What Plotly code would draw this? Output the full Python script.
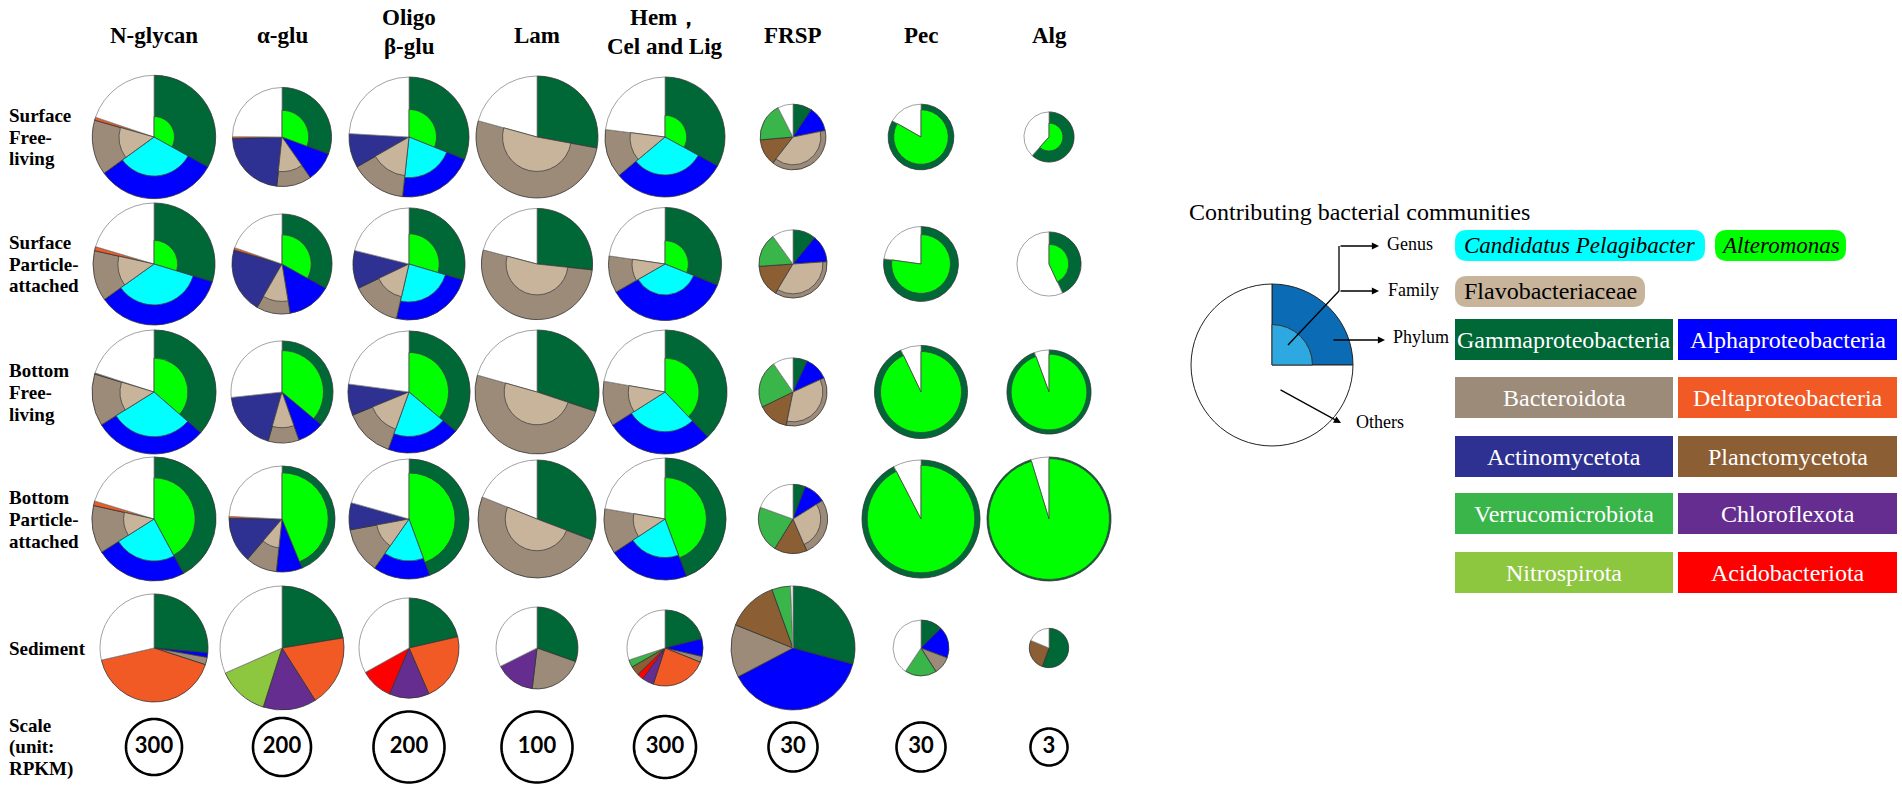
import numpy as np
import plotly.graph_objects as go

W, H = 1902, 790

# %% data ---------------------------------------------------------------
HEADERS = [["N-glycan"], ["α-glu"], ["Oligo", "β-glu"], ["Lam"],
           ["Hem，", "Cel and Lig"], ["FRSP"], ["Pec"], ["Alg"]]
ROW_LABELS = [["Surface", "Free-", "living"],
              ["Surface", "Particle-", "attached"],
              ["Bottom", "Free-", "living"],
              ["Bottom", "Particle-", "attached"],
              ["Sediment"]]

# scale circles (RPKM) per column
scale_rpkm = [300, 200, 200, 100, 300, 30, 30, 3]

# total RPKM of each pie, rows x columns
total_rpkm = [
    [1457, 583, 571, 295, 1124, 54, 54, 5.5],
    [1424, 595, 498, 245, 997, 58, 70, 9.0],
    [1471, 619, 591, 305, 1200, 58, 108, 15.5],
    [1471, 668, 571, 276, 1162, 60, 174, 33.7],
    [1116, 914, 397, 133, 451, 192, 39, 3.4],
]

PHYLA = ["Gammaproteobacteria", "Alphaproteobacteria", "Bacteroidota",
         "Actinomycetota", "Deltaproteobacteria", "Chloroflexota",
         "Nitrospirota", "Acidobacteriota", "Planctomycetota",
         "Verrucomicrobiota"]

# phylum share (%) of each pie, rows x columns; the rest is "Others"
gamma = [
    [33.1, 30.6, 31.1, 27.9, 33.0, 9.4, 83.2, 61.7],
    [29.7, 33.1, 29.6, 26.7, 31.1, 11.0, 77.2, 43.1],
    [36.4, 36.1, 36.1, 30.1, 37.9, 6.9, 92.9, 94.4],
    [42.1, 43.8, 44.4, 30.8, 44.3, 5.8, 92.4, 95.3],
    [26.4, 22.4, 21.4, 30.4, 21.1, 29.2, 12.6, 55.5],
]
alpha = [
    [31.9, 9.7, 20.6, 0, 30.9, 12.4, 0, 0],
    [35.4, 14.3, 24.0, 0, 35.6, 12.9, 0, 0],
    [29.7, 8.5, 19.4, 0, 28.1, 11.3, 0, 0],
    [23.9, 7.9, 15.3, 0, 21.4, 10.3, 0, 0],
    [1.4, 0, 0, 0, 7.5, 38.1, 18.1, 0],
]
bacteroidota = [
    [14.4, 11.4, 15.0, 51.4, 13.1, 38.7, 0, 0],
    [13.4, 10.9, 14.3, 52.4, 10.6, 34.7, 0, 0],
    [13.6, 9.8, 13.3, 49.3, 11.8, 35.0, 0, 0],
    [12.5, 9.6, 12.4, 50.3, 12.0, 27.4, 0, 0],
    [2.2, 0, 0, 21.5, 2.5, 13.8, 10.3, 0],
]
actino = [
    [0, 22.8, 9.2, 0, 0, 0, 0, 0],
    [0, 21.2, 11.0, 0, 0, 0, 0, 0],
    [0, 18.9, 8.3, 0, 0, 0, 0, 0],
    [0, 13.9, 7.3, 0, 0, 0, 0, 0],
    [0, 0, 0, 0, 0, 0, 0, 0],
]
delta = [
    [0.8, 0.6, 0, 0, 0, 0, 0, 0],
    [1.1, 0.8, 0, 0, 0, 0, 0, 0],
    [0, 0, 0, 0, 0, 0, 0, 0],
    [1.2, 0.6, 0, 0, 0, 0, 0, 0],
    [41.4, 18.6, 22.1, 0, 23.9, 0, 0, 0],
]
chloro = [[0] * 8] * 4 + [[0, 13.9, 12.9, 15.7, 5.0, 0, 0, 0]]
nitro = [[0] * 8] * 4 + [[0, 13.5, 0, 0, 0, 0, 0, 0]]
acido = [[0] * 8] * 4 + [[0, 0, 10.5, 0, 2.7, 0, 0, 0]]
plancto = [
    [0, 0, 0, 0, 0, 13.1, 0, 0],
    [0, 0, 0, 0, 0, 15.3, 0, 0],
    [0.3, 0, 0, 0, 0, 14.6, 0, 0],
    [0, 0, 0, 0, 0, 15.3, 0, 0],
    [0, 0, 0, 0, 4.0, 13.4, 0, 25.8],
]
verruco = [
    [0, 0, 0, 0, 0, 18.9, 0, 0],
    [0, 0, 0, 0, 0, 16.1, 0, 0],
    [0, 0, 0, 0, 0, 22.6, 0, 0],
    [0, 0, 0, 0, 0, 21.7, 0, 0],
    [0, 0, 0, 0, 3.2, 4.9, 18.4, 0],
]
phylum_pct = dict(zip(PHYLA, [gamma, alpha, bacteroidota, actino, delta,
                              chloro, nitro, acido, plancto, verruco]))

# genus / family share (%) inside its phylum
alteromonas = [
    [11, 29, 21, 0, 13, 0, 69, 31],
    [15, 34, 29, 0, 17, 0, 62, 38],
    [30, 66, 42, 0, 30, 0, 76, 81],
    [44, 76, 59, 0, 46, 0, 83, 95],
    [0, 0, 0, 0, 0, 0, 0, 0],
]
pelagibacter = [
    [40, 0, 46, 0, 40, 0, 0, 0],
    [45, 0, 46, 0, 30, 0, 0, 0],
    [52, 0, 53, 0, 41, 0, 0, 0],
    [46, 0, 49, 0, 40, 0, 0, 0],
    [0, 0, 0, 0, 0, 0, 0, 0],
]
flavo = [
    [32, 49, 42, 32, 34, 72, 0, 0],
    [35, 56, 36, 31, 34, 77, 0, 0],
    [30, 49, 42, 28, 35, 77, 0, 0],
    [24, 30, 30, 29, 27, 64, 0, 0],
    [0, 0, 0, 0, 0, 0, 0, 0],
]
inner_layers = [("Alteromonas", "Gammaproteobacteria", alteromonas),
                ("Candidatus Pelagibacter", "Alphaproteobacteria", pelagibacter),
                ("Flavobacteriaceae", "Bacteroidota", flavo)]

# legend example pie: phylum quarter with an inner genus part
legend_pie_pct = [25, 75]
legend_inner_share = 25

COLORS = {
    "Gammaproteobacteria": "#006837",
    "Alphaproteobacteria": "#0000FF",
    "Bacteroidota": "#9C8B78",
    "Actinomycetota": "#2E3192",
    "Deltaproteobacteria": "#F15A24",
    "Chloroflexota": "#662D91",
    "Nitrospirota": "#8DC63F",
    "Acidobacteriota": "#FF0000",
    "Planctomycetota": "#8B5E34",
    "Verrucomicrobiota": "#39B54A",
    "Others": "#FFFFFF",
    "Alteromonas": "#00FF00",
    "Candidatus Pelagibacter": "#00FFFF",
    "Flavobacteriaceae": "#C8B49B",
}

# %% layout constants (pixels) -------------------------------------------
COL_X = [154, 282, 409, 537, 665, 793, 921, 1049]
ROW_Y = [137, 264, 392, 519, 648]
SCALE_Y = 747
SCALE_PX = [28, 29, 35.5, 35.5, 31, 24.5, 24.5, 18.5]  # drawn radius of scale circles
HALF = 64
SCALE_HALF = 40
SERIF = "Liberation Serif"

fig = go.Figure()
polars = {}


def new_polar(cx, cy, half, rmax):
    name = "polar" if not polars else f"polar{len(polars) + 1}"
    polars[name] = dict(
        domain=dict(x=[(cx - half) / W, (cx + half) / W],
                    y=[1 - (cy + half) / H, 1 - (cy - half) / H]),
        bgcolor="rgba(0,0,0,0)",
        barmode="overlay",
        radialaxis=dict(visible=False, range=[0, rmax]),
        angularaxis=dict(visible=False, rotation=90, direction="clockwise"),
    )
    return name


def add_pie(sp, R, names, vals, inner, line_w=0.8):
    cum = np.concatenate([[0], np.cumsum(vals)])
    widths = [v * 3.6 for v in vals]
    centers = [(cum[k] + vals[k] / 2) * 3.6 for k in range(len(vals))]
    fig.add_trace(go.Barpolar(
        r=[R] * len(vals), base=0, theta=centers, width=widths, subplot=sp,
        marker=dict(color=[COLORS.get(n, n) for n in names],
                    line=dict(color=["#8a8a8a" if n == "Others" else "#333333" for n in names],
                              width=line_w)),
        hoverinfo="skip", showlegend=False))
    ir, it, iw, ic = [], [], [], []
    for name, parent, share in inner:
        if share > 0 and parent in names:
            k = names.index(parent)
            ir.append(R * np.sqrt(share / 100))
            it.append(centers[k])
            iw.append(widths[k])
            ic.append(COLORS.get(name, name))
    if ir:
        fig.add_trace(go.Barpolar(
            r=ir, base=0, theta=it, width=iw, subplot=sp,
            marker=dict(color=ic, line=dict(color="#444444", width=line_w)),
            hoverinfo="skip", showlegend=False))


# %% pies ----------------------------------------------------------------
for i in range(len(ROW_Y)):
    for j in range(len(COL_X)):
        rmax = HALF * np.sqrt(scale_rpkm[j]) / SCALE_PX[j]
        sp = new_polar(COL_X[j], ROW_Y[i], HALF, rmax)
        names, vals = [], []
        for p in PHYLA:
            v = phylum_pct[p][i][j]
            if v > 0:
                names.append(p)
                vals.append(v)
        names.append("Others")
        vals.append(100 - sum(vals))
        inner = [(n, par, tab[i][j]) for n, par, tab in inner_layers]
        add_pie(sp, np.sqrt(total_rpkm[i][j]), names, vals, inner)

# scale circles
for j in range(len(COL_X)):
    rmax = SCALE_HALF * np.sqrt(scale_rpkm[j]) / SCALE_PX[j]
    sp = new_polar(COL_X[j], SCALE_Y, SCALE_HALF, rmax)
    th = np.linspace(0, 360, 121)
    fig.add_trace(go.Scatterpolar(
        r=[np.sqrt(scale_rpkm[j])] * len(th), theta=th, mode="lines", subplot=sp,
        line=dict(color="black", width=2.6), hoverinfo="skip", showlegend=False))
    fig.add_trace(go.Scatterpolar(
        r=[0], theta=[0], mode="text", text=[f"<b>{scale_rpkm[j]}</b>"], subplot=sp,
        textfont=dict(family="Lato", size=22, color="black"),
        hoverinfo="skip", showlegend=False))

# legend example pie
sp = new_polar(1272, 365, 83, 1.025)
add_pie(sp, 1.0, ["#0B6CB5", "Others"], legend_pie_pct,
        [("#2DA8E0", "#0B6CB5", legend_inner_share)], line_w=1.0)
fig.data[-1].marker.line.color = "#333333"
fig.data[-2].marker.line.color = ["#222222", "#222222"]

# %% texts ---------------------------------------------------------------
ann = []


def txt(x, y, s, size, color="black", xanchor="center", family=SERIF):
    ann.append(dict(x=x / W, y=1 - y / H, xref="paper", yref="paper", text=s,
                    showarrow=False, xanchor=xanchor, yanchor="middle",
                    font=dict(family=family, size=size, color=color)))


for j, lines in enumerate(HEADERS):
    ys = [35] if len(lines) == 1 else [17, 47]
    for line, y in zip(lines, ys):
        txt(COL_X[j], y, f"<b>{line}</b>", 23)

for i, lines in enumerate(ROW_LABELS):
    n = len(lines)
    for k, line in enumerate(lines):
        txt(7, ROW_Y[i] + (k - (n - 1) / 2) * 22, f"<b>{line}</b>", 19, xanchor="left")
for k, line in enumerate(["Scale", "(unit:", "RPKM)"]):
    txt(7, SCALE_Y + (k - 1) * 22, f"<b>{line}</b>", 19, xanchor="left")

# legend
txt(1187, 212, "Contributing bacterial communities", 24, xanchor="left")
txt(1385, 244, "Genus", 18, xanchor="left")
txt(1386, 290, "Family", 18, xanchor="left")
txt(1391, 337, "Phylum", 18, xanchor="left")
txt(1354, 422, "Others", 18, xanchor="left")

shapes = []


def seg(x0, y0, x1, y1):
    shapes.append(dict(type="line", xref="paper", yref="paper",
                       x0=x0 / W, y0=1 - y0 / H, x1=x1 / W, y1=1 - y1 / H,
                       line=dict(color="black", width=1.3)))


def arrow(tx, ty, hx, hy):
    ann.append(dict(x=hx / W, y=1 - hy / H, xref="paper", yref="paper",
                    ax=tx - hx, ay=ty - hy, axref="pixel", ayref="pixel",
                    text="", showarrow=True, arrowhead=2, arrowsize=1.1,
                    arrowwidth=1.3, arrowcolor="black"))


seg(1288, 345, 1339, 291)
seg(1339, 291, 1339, 246)
arrow(1339, 246, 1379, 246)
arrow(1339, 291, 1379, 291)
arrow(1332, 340, 1385, 340)
arrow(1279, 389, 1341, 423)


def rounded(x0, y0, x1, y1, rad, color):
    X0, X1 = x0 / W, x1 / W
    Y0, Y1 = 1 - y0 / H, 1 - y1 / H
    rx, ry = rad / W, rad / H
    path = (f"M {X0 + rx},{Y0} L {X1 - rx},{Y0} Q {X1},{Y0} {X1},{Y0 - ry} "
            f"L {X1},{Y1 + ry} Q {X1},{Y1} {X1 - rx},{Y1} L {X0 + rx},{Y1} "
            f"Q {X0},{Y1} {X0},{Y1 + ry} L {X0},{Y0 - ry} Q {X0},{Y0} {X0 + rx},{Y0} Z")
    shapes.append(dict(type="path", xref="paper", yref="paper", path=path,
                       fillcolor=color, line=dict(width=0)))


rounded(1455, 230, 1705, 261, 12, COLORS["Candidatus Pelagibacter"])
txt(1580, 245, "<i>Candidatus Pelagibacter</i>", 23)
rounded(1715, 230, 1846, 261, 12, COLORS["Alteromonas"])
txt(1780, 245, "<i>Alteromonas</i>", 23)
rounded(1455, 276, 1645, 307, 12, COLORS["Flavobacteriaceae"])
txt(1550, 291, "Flavobacteriaceae", 24)

LEGEND_GRID = [("Gammaproteobacteria", "Alphaproteobacteria"),
               ("Bacteroidota", "Deltaproteobacteria"),
               ("Actinomycetota", "Planctomycetota"),
               ("Verrucomicrobiota", "Chloroflexota"),
               ("Nitrospirota", "Acidobacteriota")]
BOX_TOP = [319, 377, 436, 493, 552]
BOX_X = [(1455, 1673), (1678, 1897)]
for r, pair in enumerate(LEGEND_GRID):
    for c, name in enumerate(pair):
        x0, x1 = BOX_X[c]
        y0 = BOX_TOP[r]
        shapes.append(dict(type="rect", xref="paper", yref="paper",
                           x0=x0 / W, x1=x1 / W, y0=1 - y0 / H, y1=1 - (y0 + 41) / H,
                           fillcolor=COLORS[name], line=dict(width=0)))
        txt((x0 + x1) / 2, y0 + 20.5, name, 24, color="white")

fig.update_layout(
    width=W, height=H,
    margin=dict(l=0, r=0, t=0, b=0),
    paper_bgcolor="white",
    plot_bgcolor="white",
    showlegend=False,
    annotations=ann,
    shapes=shapes,
    **polars,
)

fig.write_html("out.html", config={"displayModeBar": False},
               post_script="document.body.style.margin='0px';")
